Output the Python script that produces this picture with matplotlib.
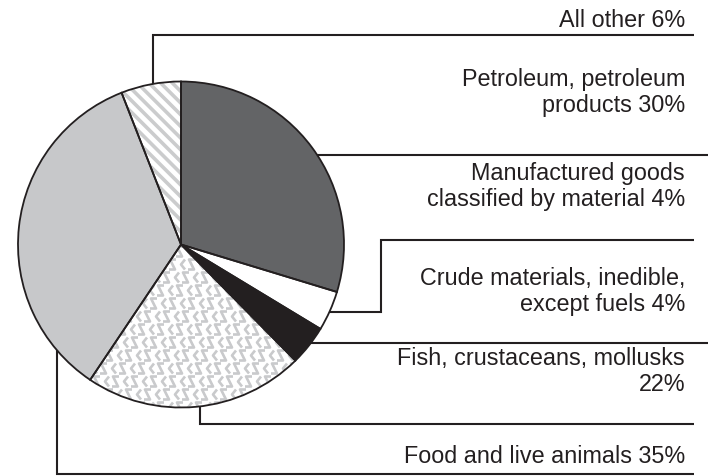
import numpy as np
import matplotlib.pyplot as plt
from matplotlib.collections import LineCollection

plt.rcParams['font.family'] = ['Liberation Sans', 'DejaVu Sans']

# data (clockwise from 12 o'clock)
labels = ['Petroleum, petroleum\nproducts 30%',
          'Manufactured goods\nclassified by material 4%',
          'Crude materials, inedible,\nexcept fuels 4%',
          'Fish, crustaceans, mollusks\n22%',
          'Food and live animals 35%',
          'All other 6%']
shares = [30, 4, 4, 22, 35, 6]
colors = ['#636466', '#ffffff', '#231f20', '#ffffff', '#c7c8ca', '#ffffff']

W, H = 708, 477
ink = '#231f20'
cx, cy, r = 181, H - 245.5, 163   # pie centre in pixel coords (y up)

fig = plt.figure(figsize=(W / 100, H / 100), dpi=100)
ax = fig.add_axes([0, 0, 1, 1])

# fills
wedges, _ = ax.pie(shares, colors=colors, startangle=90, counterclock=False,
                   center=(cx, cy), radius=r, wedgeprops=dict(linewidth=0))

# "<S" texture for fish wedge
segs = []
for j, yy in enumerate(np.arange(cy - r, cy + r + 13, 13)):
    for xx in np.arange(cx - r - 20, cx + r + 20, 19):
        x0 = xx + (j % 3) * 6
        segs.append([(x0 + 4, yy + 5), (x0, yy), (x0 + 4, yy - 5)])
        segs.append([(x0 + 14, yy + 5), (x0 + 8, yy + 5), (x0 + 13, yy - 5), (x0 + 7, yy - 5)])
tex = LineCollection(segs, colors='#c9cacc', linewidths=1.9, zorder=2)
ax.add_collection(tex)
tex.set_clip_path(wedges[3])

# diagonal stripes for "All other"
stripes = []
for c in np.arange(cx - 2 * r, cx + 2 * r, 11.7):
    stripes.append([(c, cy + r), (c + 2 * r, cy - r)])
st = LineCollection(stripes, colors='#cbcccd', linewidths=2.6, zorder=2)
ax.add_collection(st)
st.set_clip_path(wedges[5])

# outlines
ax.pie(shares, colors=['none'] * len(shares), startangle=90, counterclock=False,
       center=(cx, cy), radius=r,
       wedgeprops=dict(fill=False, edgecolor=ink, linewidth=1.3, zorder=3))


def ex(y, side):
    y = H - y
    return cx + side * np.sqrt(r ** 2 - (y - cy) ** 2)


def ey(x, side):
    return H - (cy + side * np.sqrt(r ** 2 - (x - cx) ** 2))


# leader lines, reference pixel coords (y down)
leaders = [
    [(ex(155.5, 1), 155.5), (708, 155.5)],
    [(ex(313, 1), 313), (381, 313), (381, 241), (694, 241)],
    [(ex(344, 1), 344), (708, 344)],
    [(199.5, ey(199.5, -1)), (199.5, 425), (694, 425)],
    [(57, ey(57, -1)), (57, 475), (694, 475)],
    [(153, ey(153, 1)), (153, 36), (694, 36)],
]
text_y = [112, 206, 311.5, 391, 463, 27]

for pts, lab, ty in zip(leaders, labels, text_y):
    xs = [p[0] for p in pts]
    ys = [H - p[1] for p in pts]
    ax.plot(xs, ys, color=ink, lw=1.5, solid_capstyle='butt', solid_joinstyle='miter', zorder=1)
    ax.text(685, H - ty, lab, ha='right', va='baseline', ma='right',
            fontsize=16.8, color=ink, linespacing=1.17)

ax.set_xlim(0, W)
ax.set_ylim(0, H)
ax.set_aspect('auto')
ax.axis('off')

fig.savefig('out.png', dpi=100, facecolor='white')
